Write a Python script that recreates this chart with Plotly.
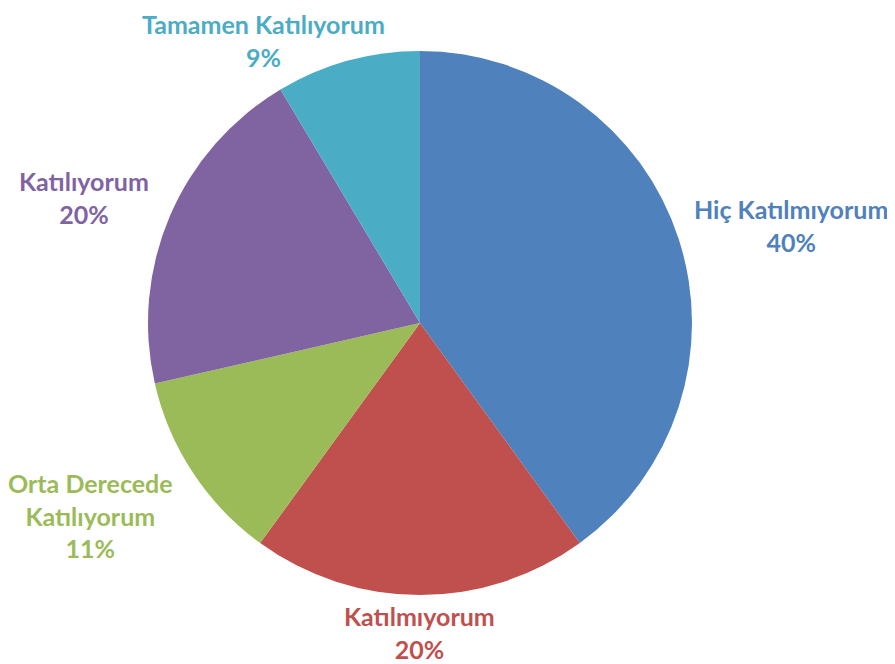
import plotly.graph_objects as go

labels = ["Hiç Katılmıyorum", "Katılmıyorum", "Orta Derecede<br>Katılıyorum", "Katılıyorum", "Tamamen Katılıyorum"]
values = [14, 7, 4, 7, 3]
colors = ["#4F81BD", "#C0504D", "#9BBB59", "#8064A2", "#4BACC6"]

# label centre positions in window pixels (layout only)
label_px = [(791, 226), (419, 632), (90, 515), (84, 198), (263, 41)]

OFF = 8              # page body margin offset
W, H = 895 - OFF, 664 - OFF

def fx(px):
    return (px - OFF) / W

def fy(py):
    return 1 - (py - OFF) / H

fig = go.Figure(go.Pie(
    labels=labels,
    values=values,
    sort=False,
    direction="clockwise",
    rotation=0,
    marker=dict(colors=colors, line=dict(width=0)),
    textinfo="none",
    domain=dict(x=[fx(148), fx(692)], y=[fy(595), fy(51)]),
    showlegend=False,
    hoverinfo="label+percent",
))

total = sum(values)
annotations = []
for lab, v, c, (px, py) in zip(labels, values, colors, label_px):
    pct = round(100 * v / total)
    annotations.append(dict(
        x=fx(px), y=fy(py), xref="paper", yref="paper",
        xanchor="center", yanchor="middle", align="center",
        showarrow=False, borderpad=0,
        text=f"<b>{lab}<br>{pct}%</b>",
        font=dict(family="Lato", size=25, color=c),
    ))

fig.update_layout(
    width=W, height=H,
    margin=dict(l=0, r=0, t=0, b=0),
    paper_bgcolor="white",
    plot_bgcolor="white",
    annotations=annotations,
)

fig.write_html("out.html")
